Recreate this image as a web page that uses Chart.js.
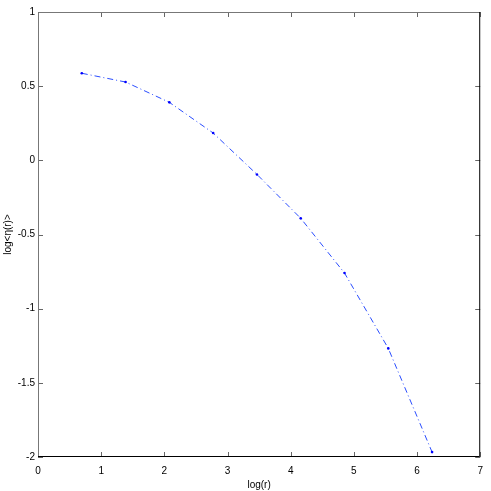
<!DOCTYPE html>
<html>
<head>
<meta charset="utf-8">
<script src="https://cdn.jsdelivr.net/npm/chart.js@4"></script>
<style>
  body { margin: 0; background: #fff; }
</style>
</head>
<body>
<canvas id="myChart" width="491" height="491"></canvas>
<script>
// log(r) and log<eta(r)>
var logR = [0.693, 1.386, 2.079, 2.773, 3.466, 4.159, 4.852, 5.545, 6.238]
var logEta = [0.587, 0.528, 0.391, 0.184, -0.095, -0.391, -0.760, -1.268, -1.967]
var xTicks = [0, 1, 2, 3, 4, 5, 6, 7]
var yTicks = [-2, -1.5, -1, -0.5, 0, 0.5, 1]

var pontos = logR.map(function (v, i) { return { x: v, y: logEta[i] } })

// matlab style box with inward ticks on all four sides
const boxTicks = {
    id: 'boxTicks',
    afterDraw(chart) {
        const { ctx, chartArea: a, scales: { x, y } } = chart
        const len = 5
        ctx.save()
        ctx.lineWidth = 1
        ctx.strokeStyle = '#666'
        xTicks.forEach(function (t) {
            var px = Math.round(x.getPixelForValue(t)) + 0.5
            ctx.beginPath()
            ctx.moveTo(px, a.bottom); ctx.lineTo(px, a.bottom - len)
            ctx.moveTo(px, a.top); ctx.lineTo(px, a.top + len)
            ctx.stroke()
        })
        yTicks.forEach(function (t) {
            var py = Math.round(y.getPixelForValue(t)) + 0.5
            ctx.beginPath()
            ctx.moveTo(a.left, py); ctx.lineTo(a.left + len, py)
            ctx.moveTo(a.right, py); ctx.lineTo(a.right - len, py)
            ctx.stroke()
        })
        // top and left edges
        ctx.strokeStyle = '#777'
        ctx.beginPath()
        ctx.moveTo(a.left + 0.5, a.bottom); ctx.lineTo(a.left + 0.5, a.top + 0.5); ctx.lineTo(a.right, a.top + 0.5)
        ctx.stroke()
        // bottom and right edges
        ctx.strokeStyle = '#000'
        ctx.beginPath()
        ctx.moveTo(a.left, a.bottom - 0.5); ctx.lineTo(a.right - 0.5, a.bottom - 0.5); ctx.lineTo(a.right - 0.5, a.top)
        ctx.stroke()
        ctx.restore()
    }
}

const fonte = { family: '"Liberation Sans", Arial, sans-serif', size: 10 }

new Chart(document.getElementById('myChart').getContext('2d'), {
    type: 'scatter',
    data: {
        datasets: [
            {
                label: 'log<η(r)>',
                data: pontos,
                showLine: true,
                borderColor: '#2a4dff',
                borderWidth: 1,
                borderDash: [6, 3, 1, 3],
                pointRadius: 1.3,
                pointBackgroundColor: '#0000ff',
                pointBorderWidth: 0
            }
        ]
    },
    plugins: [boxTicks],
    options: {
        responsive: false,
        animation: false,
        layout: { padding: { top: 12, right: 7, left: 0, bottom: 0 } },
        plugins: { legend: { display: false }, tooltip: { enabled: false } },
        scales: {
            x: {
                type: 'linear',
                min: 0,
                max: 7,
                afterBuildTicks: function (s) { s.ticks = xTicks.map(function (v) { return { value: v } }) },
                afterFit: function (s) { s.height = 34 },
                grid: { display: false, drawTicks: false },
                border: { display: false },
                ticks: { color: '#000', font: fonte, padding: 8, maxRotation: 0, callback: function (v) { return String(v) } },
                title: { display: true, text: 'log(r)', color: '#000', font: fonte, padding: { top: 2, bottom: 0 } }
            },
            y: {
                type: 'linear',
                min: -2,
                max: 1,
                afterBuildTicks: function (s) { s.ticks = yTicks.map(function (v) { return { value: v } }) },
                afterFit: function (s) { s.width = 38 },
                grid: { display: false, drawTicks: false },
                border: { display: false },
                ticks: { color: '#000', font: fonte, padding: 3, callback: function (v) { return String(v) } },
                title: { display: true, text: 'log<η(r)>', color: '#000', font: fonte, padding: { top: 2, bottom: 0 } }
            }
        }
    }
});
</script>
</body>
</html>
